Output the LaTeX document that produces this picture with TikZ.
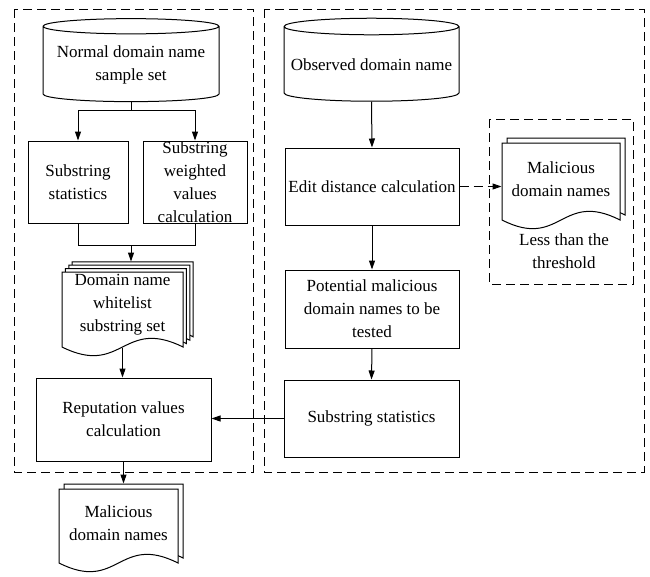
\documentclass[tikz,border=0pt]{standalone}
\usepackage{fontspec}
\setmainfont{Liberation Serif}
\usetikzlibrary{arrows.meta,calc,shapes.geometric}
\tikzset{
  base/.style={line width=1pt,font=\fontsize{17}{23}\selectfont},
  proc/.style={draw,rectangle,align=center,inner sep=2pt},
  store/.style={draw,cylinder,shape border rotate=90,aspect=0.1,align=center,inner sep=2pt},
  doc/.style={align=center,inner sep=0pt},
  page/.style={draw,fill=white},
  group/.style={draw,dash pattern=on 9pt off 5pt},
  arrow/.style={-{Triangle[length=9pt,width=6pt]}},
  dasharrow/.style={arrow,dash pattern=on 9pt off 5pt}
}
% one sheet of a document symbol: left, top, right, corner level
\newcommand\docpage[4]{%
  \draw[page] (#1,#4) -- (#1,#2) -- (#3,#2) -- (#3,#4)
    .. controls ({(#1+#3)/2},{#4-30}) and ({(#1+#3)/2},{#4+30}) .. (#1,#4) -- cycle;}
\begin{document}
\begin{tikzpicture}[base,x=1pt,y=-1pt]
  \useasboundingbox (0,0) rectangle (650,576);
  % groups
  \draw[group] (14,9) rectangle (253,472);
  \draw[group] (264,9) rectangle (644,472);
  \draw[group] (489,119) rectangle (633,284);
  % document stacks
  \foreach \k in {3,2,1,0} \docpage{62+3.4*\k}{272-3.4*\k}{183+3.4*\k}{347-3.4*\k};
  \foreach \k in {1,0} \docpage{59+5*\k}{489-5*\k}{178+5*\k}{563-5*\k};
  \foreach \k in {1,0} \docpage{502+5*\k}{143-5*\k}{620+5*\k}{220-5*\k};
  % left column
  \node[store,minimum width=176pt,minimum height=83pt] (nd) at (131,65) {Normal domain name\\sample set};
  \node[proc,minimum width=100pt,minimum height=82pt] (ss1) at (78,182) {Substring\\statistics};
  \node[proc,minimum width=104pt,minimum height=82pt,
    label={[align=center]center:Substring\\weighted\\values\\calculation}] (sw) at (195,182) {};
  \node[doc,minimum width=121pt,minimum height=85pt] (wl) at (122.5,304.5) {Domain name\\whitelist\\substring set};
  \node[proc,minimum width=175pt,minimum height=83pt] (rep) at (123.5,419.5) {Reputation values\\calculation};
  \node[doc,minimum width=119pt,minimum height=79pt] (mal1) at (118.5,523.5) {Malicious\\domain names};
  % right column
  \node[store,minimum width=175pt,minimum height=83pt] (ob) at (371.5,65) {Observed domain name};
  \node[proc,minimum width=174pt,minimum height=77pt] (edit) at (372,186.5) {Edit distance calculation};
  \node[proc,minimum width=174pt,minimum height=78pt] (pot) at (372,309) {Potential malicious\\domain names to be\\tested};
  \node[proc,minimum width=175pt,minimum height=77pt] (ss2) at (371.5,418.5) {Substring statistics};
  \node[doc,minimum width=118pt,minimum height=82pt] (mal2) at (561,179) {Malicious\\domain names};
  \node[doc] (thr) at (564,251) {Less than the\\threshold};
  % connectors
  \draw (nd.south) -- ++(0,8) coordinate (split);
  \draw[arrow] (split) -| (ss1.north);
  \draw[arrow] (split) -| (sw.north);
  \coordinate (merge) at ($(nd.south |- ss1.south)+(0,22)$);
  \draw (ss1.south) |- (merge) -| (sw.south);
  \draw[arrow] (merge) -- (merge |- wl.north);
  \draw[arrow] (wl.south) -- (wl.south |- rep.north);
  \draw[arrow] (rep.south) -- (rep.south |- mal1.north);
  \draw[arrow] (ob.south) -- (edit.north);
  \draw[arrow] (edit.south) -- (pot.north);
  \draw[arrow] (pot.south) -- (ss2.north);
  \draw[arrow] (ss2.west) -- (ss2.west -| rep.east);
  \draw[dasharrow] (edit.east) -- (edit.east -| mal2.west);
\end{tikzpicture}
\end{document}
